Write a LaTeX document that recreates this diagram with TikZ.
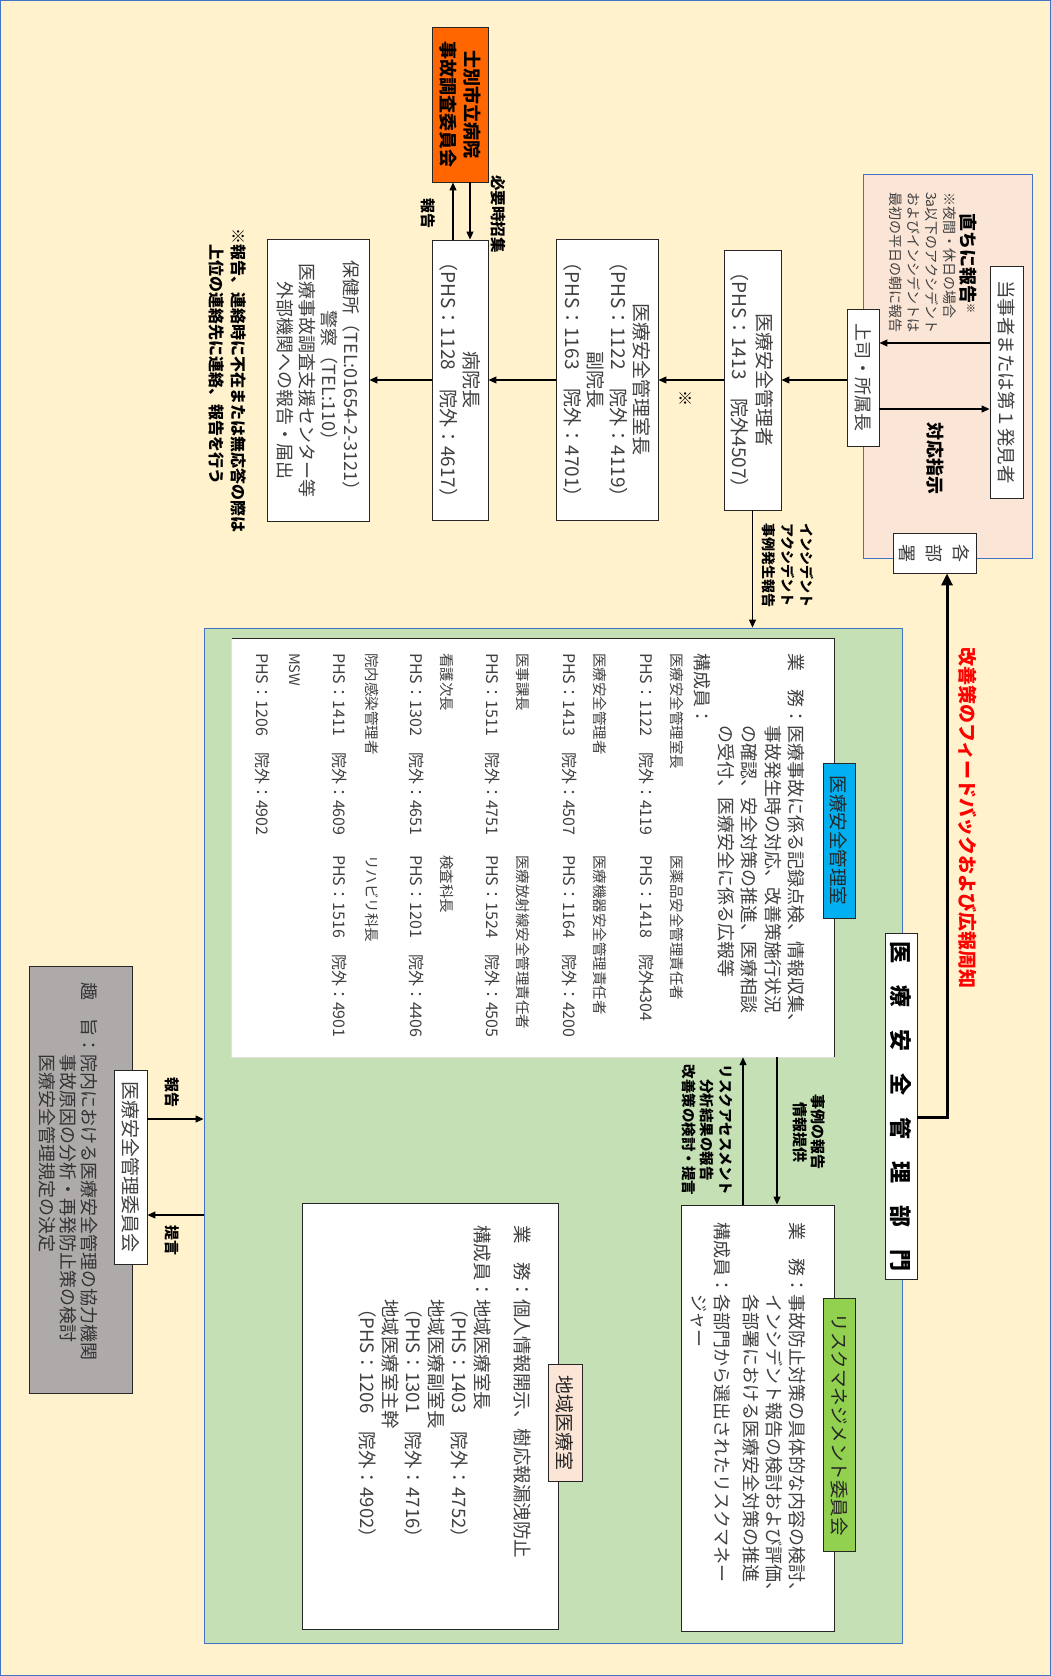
\documentclass[tikz,border=0pt]{standalone}
\usepackage{fontspec}
\newfontfamily\jp{Noto Sans CJK JP}
\usetikzlibrary{arrows.meta,calc}
\newcommand\fsz[2]{\fontsize{#1}{#2}\selectfont}
\definecolor{bgcream}{HTML}{FFF2CC}
\definecolor{pinkbg}{HTML}{FBE5D6}
\definecolor{greenbg}{HTML}{C5E0B4}
\definecolor{frameblue}{HTML}{4472C4}
\definecolor{tabblue}{HTML}{00B0F0}
\definecolor{tabgreen}{HTML}{92D050}
\definecolor{orangebox}{HTML}{FF6600}
\definecolor{graybox}{HTML}{AEAAAA}
\definecolor{txtgray}{HTML}{404040}
\tikzset{
  boxr/.style={draw=black!85, fill=white, line width=0.9pt, rotate=-90, inner sep=0pt,
    align=center, text=txtgray},
  vtext/.style={rotate=-90, inner sep=0pt},
  vline/.style={vtext, anchor=west},
  vblock/.style={vtext, anchor=north west, align=left},
  boldlbl/.style={vtext, text=black},
  memname/.style={vline, text=txtgray, font=\jp\fsz{14.5}{16}},
  memphs/.style={vline, text=txtgray, font=\jp\fsz{16}{18}},
  arr/.style={-{Triangle[length=8pt,width=7pt]}, line width=1.1pt},
  thickarr/.style={-{Triangle[length=12pt,width=11pt]}, line width=3pt},
}
\begin{document}
\begin{tikzpicture}[x=1pt,y=-1pt,font=\jp]
\useasboundingbox (0,0) rectangle (1051,1676);
\fill[bgcream] (0,0) rectangle (1051,1676);
\draw[frameblue, line width=1pt] (0.5,0.5) rectangle (1050.5,1675.5);

% ---- first report area ----
\node[draw=frameblue, fill=pinkbg, line width=0.9pt, minimum width=169pt, minimum height=384pt, inner sep=0pt] (hotarea) at (947.5,366) {};
\node[boxr, minimum width=232pt, minimum height=33pt, font=\jp\fsz{18.5}{22}] (toji) at (1006.5,382) {当事者または第１発見者};
\node[boxr, minimum width=137pt, minimum height=32pt, font=\jp\fsz{18}{22}] (joshi) at (863,377.5) {上司・所属長};
\node[boxr, minimum width=40pt, minimum height=83pt, font=\jp\fsz{18}{26.7}] (kakubusho) at (934.5,553) {各\\部\\署};
\node[vline, text=black, font=\jp\bfseries\fsz{18}{22}] (sokuji) at (968,213) {直ちに報告\raisebox{6pt}{\fsz{10}{10}※}};
\node[vblock, text=txtgray, font=\jp\fsz{14}{17.7}] (yakan) at (956,192) {※夜間・休日の場合\\3a以下のアクシデント\\およびインシデントは\\最初の平日の朝に報告};
\node[vline, text=black, font=\jp\bfseries\fsz{18}{22}] (taiou) at (935,422) {対応指示};

\coordinate (yA) at (0,343);
\coordinate (yB) at (0,409);
\coordinate (yC) at (0,380);
\draw[arr] (toji.south |- yA) -- (joshi.north |- yA);
\draw[arr] (joshi.north |- yB) -- (toji.south |- yB);

% ---- reporting chain ----
\node[boxr, minimum width=260pt, minimum height=57pt, font=\jp\fsz{19}{25}] (kanrisha) at (752.5,380) {医療安全管理者\\（PHS：1413　院外4507）};
\node[boxr, minimum width=281pt, minimum height=102pt, font=\jp\fsz{19}{23}] (shitsucho) at (607,379.5) {医療安全管理室長\\（PHS：1122　院外：4119）\\副院長\\（PHS：1163　院外：4701）};
\node[boxr, minimum width=280pt, minimum height=56pt, font=\jp\fsz{19}{23}] (incho) at (460,380) {病院長\\（PHS：1128　院外：4617）};
\node[boxr, minimum width=282pt, minimum height=102pt, font=\jp\fsz{18}{22}] (hokenjo) at (318,380) {保健所（TEL:01654-2-3121）\\警察（TEL:110）\\医療事故調査支援センター等\\外部機関への報告・届出};
\node[boxr, fill=orangebox, text=black, minimum width=155pt, minimum height=56pt, font=\jp\bfseries\fsz{18}{24}] (jiko) at (460,104.5) {士別市立病院\\事故調査委員会};

\draw[arr] (joshi.south |- yC) -- (kanrisha.north |- yC);
\draw[arr] (kanrisha.south |- yC) -- (shitsucho.north |- yC);
\draw[arr] (shitsucho.south |- yC) -- (incho.north |- yC);
\draw[arr] (incho.south |- yC) -- (hokenjo.north |- yC);
\node[vtext, font=\jp\fsz{16}{16}] (kome) at (685,398) {※};

\coordinate (xR) at (453,0);
\coordinate (xS) at (470,0);
\draw[arr] (xR |- incho.west) -- (xR |- jiko.east);
\draw[arr] (xS |- jiko.east) -- (xS |- incho.west);
\node[boldlbl, anchor=west, font=\jp\bfseries\fsz{15}{15}] (hokoku1) at (428,198) {報告};
\node[boldlbl, anchor=west, font=\jp\bfseries\fsz{15.5}{15.5}] (shoshu) at (498,175) {必要時招集};
\node[vblock, text=black, font=\jp\bfseries\fsz{16}{22}] (fuzai) at (247,228) {※報告、連絡時に不在または無応答の際は\\　上位の連絡先に連絡、報告を行う};

% ---- safety management department ----
\node[draw=frameblue, fill=greenbg, line width=0.9pt, minimum width=698pt, minimum height=1015pt, inner sep=0pt] (green) at (553,1135.5) {};
\node[boxr, text=black, minimum width=346pt, minimum height=32pt, font=\jp\bfseries\fsz{22}{22}] (bumon) at (901,1106) {医　療　安　全　管　理　部　門};
\node[vline, text=red, font=\jp\bfseries\fsz{19}{22}] (feedback) at (968,647) {改善策のフィードバックおよび広報周知};

\draw[arr] (kanrisha.east) -- (kanrisha.east |- green.north);
\node[vblock, text=black, font=\jp\bfseries\fsz{14}{19}] (incident) at (814,523) {インシデント\\アクシデント\\事例発生報告};

\coordinate (yD) at (0,1117);
\coordinate (xT) at (947,0);
\draw[thickarr] (bumon.north |- yD) -- (xT |- yD) -- (xT |- kakubusho.east);

% medical safety office
\node[fill=white, minimum width=602pt, minimum height=418pt, inner sep=0pt] (shitsu) at (533,848) {};
\draw[black!12, line width=1pt] (shitsu.north west) -- (shitsu.south west) -- (shitsu.south east);
\draw[black!85, line width=1pt] (shitsu.north west) -- (shitsu.north east) -- (shitsu.south east);
\node[boxr, fill=tabblue, text=black!85, minimum width=155pt, minimum height=32pt, font=\jp\fsz{18.5}{22}] (tabA) at (839,840.5) {医療安全管理室};
\node[vblock, text=txtgray, font=\jp\fsz{18}{23.5}] (gyomuA) at (805,653) {業　務：医療事故に係る記録点検、情報収集、\\　　　　事故発生時の対応、改善策施行状況\\　　　　の確認、安全対策の推進、医療相談\\　　　　の受付、医療安全に係る広報等\\構成員：};
\foreach \xn/\xp/\nm/\ph [count=\i] in {
  677/647/医療安全管理室長/PHS：1122　院外：4119,
  600/570/医療安全管理者/PHS：1413　院外：4507,
  523/493/医事課長/PHS：1511　院外：4751,
  447/417/看護次長/PHS：1302　院外：4651,
  372/340/院内感染管理者/PHS：1411　院外：4609,
  295/263/MSW/PHS：1206　院外：4902}{
  \node[memname] (mnL\i) at (\xn,653) {\nm};
  \node[memphs] (mpL\i) at (\xp,653) {\ph};
}
\foreach \xn/\xp/\nm/\ph [count=\i] in {
  677/647/医薬品安全管理責任者/PHS：1418　院外4304,
  600/570/医療機器安全管理責任者/PHS：1164　院外：4200,
  523/493/医療放射線安全管理責任者/PHS：1524　院外：4505,
  447/417/検査科長/PHS：1201　院外：4406,
  372/340/リハビリ科長/PHS：1516　院外：4901}{
  \node[memname] (mnR\i) at (\xn,855) {\nm};
  \node[memphs] (mpR\i) at (\xp,855) {\ph};
}

% risk management committee
\node[draw=black!85, fill=white, line width=0.9pt, minimum width=153pt, minimum height=426pt, inner sep=0pt] (risk) at (757.5,1418) {};
\node[boxr, fill=tabgreen, text=black!85, minimum width=253pt, minimum height=32pt, font=\jp\fsz{18.5}{22}] (tabB) at (839,1424.5) {リスクマネジメント委員会};
\node[vblock, text=txtgray, font=\jp\fsz{18}{23}] (gyomuB) at (806,1222) {業　務：事故防止対策の具体的な内容の検討、\\　　　　インシデント報告の検討および評価、\\　　　　各部署における医療安全対策の推進};
\node[vblock, text=txtgray, font=\jp\fsz{18}{23}] (koseiB) at (731,1222) {構成員：各部門から選出されたリスクマネー\\　　　　ジャー};

\coordinate (xU) at (777,0);
\coordinate (xV) at (743,0);
\draw[arr] (xU |- shitsu.south) -- (xU |- risk.north);
\draw[arr] (xV |- risk.north) -- (xV |- shitsu.south);
\node[vtext, text=black, align=center, font=\jp\bfseries\fsz{15}{18}] (jirei) at (809,1132) {事例の報告\\情報提供};
\node[vtext, text=black, align=center, font=\jp\bfseries\fsz{14.5}{18.5}] (assess) at (707,1130) {リスクアセスメント\\分析結果の報告\\改善策の検討・提言};

% regional medical office
\node[draw=black!85, fill=white, line width=0.9pt, minimum width=256pt, minimum height=426pt, inner sep=0pt] (chiiki) at (430,1416) {};
\node[boxr, fill=pinkbg, text=black!85, minimum width=117pt, minimum height=34pt, font=\jp\fsz{19}{22}] (tabC) at (565,1422.5) {地域医療室};
\node[vblock, text=txtgray, font=\jp\fsz{18.5}{23}] (gyomuC) at (531,1225) {業　務：個人情報開示、樹応報漏洩防止};
\node[vblock, text=txtgray, font=\jp\fsz{18.5}{23}] (koseiC) at (491,1225) {構成員：地域医療室長\\　　　　（PHS：1403　院外：4752）\\　　　　地域医療副室長\\　　　　（PHS：1301　院外：4716）\\　　　　地域医療室主幹\\　　　　（PHS：1206　院外：4902）};

% ---- safety management committee ----
\node[draw=black!85, fill=graybox, line width=0.9pt, minimum width=103pt, minimum height=427pt, inner sep=0pt] (graybx) at (80.5,1179.5) {};
\node[vblock, text=black!80, font=\jp\fsz{18}{21}] (shushi) at (98,982) {趣　旨：院内における医療安全管理の協力機関\\　　　　事故原因の分析・再発防止策の検討\\　　　　医療安全管理規定の決定};
\node[boxr, minimum width=194pt, minimum height=33pt, font=\jp\fsz{19}{22}] (iinlbl) at (130.5,1167) {医療安全管理委員会};
\coordinate (yE) at (0,1119);
\coordinate (yF) at (0,1215);
\draw[arr] (iinlbl.north |- yE) -- (green.west |- yE);
\draw[arr] (green.west |- yF) -- (iinlbl.north |- yF);
\node[boldlbl, anchor=west, font=\jp\bfseries\fsz{15}{15}] (hokoku2) at (172,1077) {報告};
\node[boldlbl, anchor=west, font=\jp\bfseries\fsz{15}{15}] (teigen) at (172,1225) {提言};
\end{tikzpicture}
\end{document}
